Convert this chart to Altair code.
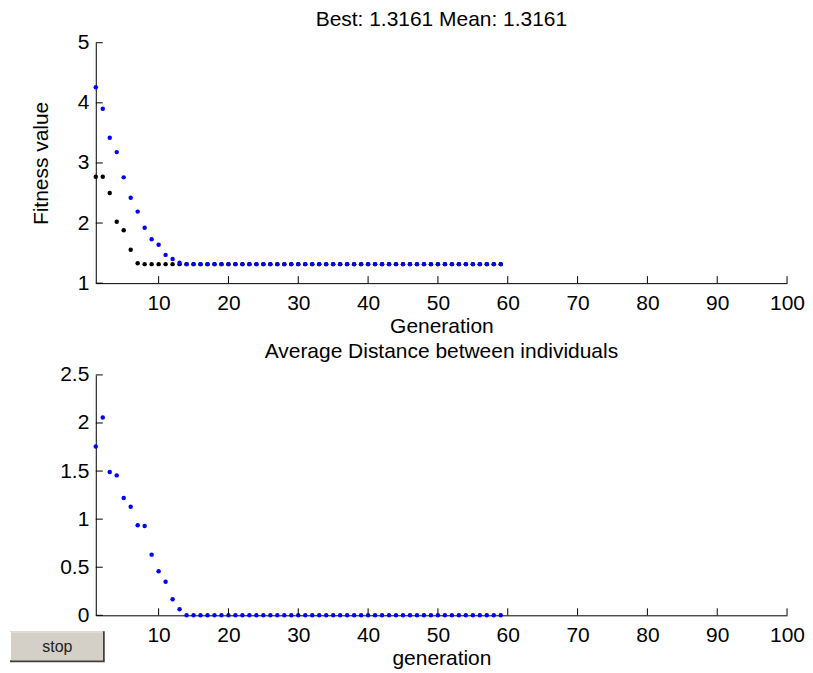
import altair as alt
import pandas as pd

# ---------------- data ----------------
generation = list(range(1, 60))

best_fitness = [2.77, 2.77, 2.50, 2.02, 1.88, 1.555, 1.33,
                1.3161, 1.3161, 1.3161, 1.3161, 1.3161, 1.3161, 1.3161, 1.3161, 1.3161, 1.3161,
                1.3161, 1.3161, 1.3161, 1.3161, 1.3161, 1.3161, 1.3161, 1.3161, 1.3161, 1.3161,
                1.3161, 1.3161, 1.3161, 1.3161, 1.3161, 1.3161, 1.3161, 1.3161, 1.3161, 1.3161,
                1.3161, 1.3161, 1.3161, 1.3161, 1.3161, 1.3161, 1.3161, 1.3161, 1.3161, 1.3161,
                1.3161, 1.3161, 1.3161, 1.3161, 1.3161, 1.3161, 1.3161, 1.3161, 1.3161, 1.3161,
                1.3161, 1.3161]

mean_fitness = [4.26, 3.90, 3.42, 3.18, 2.76, 2.42, 2.19, 1.92, 1.73, 1.64, 1.47, 1.40, 1.34,
                1.3161, 1.3161, 1.3161, 1.3161, 1.3161, 1.3161, 1.3161, 1.3161, 1.3161, 1.3161,
                1.3161, 1.3161, 1.3161, 1.3161, 1.3161, 1.3161, 1.3161, 1.3161, 1.3161, 1.3161,
                1.3161, 1.3161, 1.3161, 1.3161, 1.3161, 1.3161, 1.3161, 1.3161, 1.3161, 1.3161,
                1.3161, 1.3161, 1.3161, 1.3161, 1.3161, 1.3161, 1.3161, 1.3161, 1.3161, 1.3161,
                1.3161, 1.3161, 1.3161, 1.3161, 1.3161, 1.3161]

avg_distance = [1.756, 2.057, 1.49, 1.455, 1.22, 1.13, 0.936, 0.929, 0.631, 0.458, 0.348, 0.168, 0.064,
                0.0, 0.0, 0.0, 0.0, 0.0, 0.0, 0.0, 0.0, 0.0, 0.0,
                0.0, 0.0, 0.0, 0.0, 0.0, 0.0, 0.0, 0.0, 0.0, 0.0,
                0.0, 0.0, 0.0, 0.0, 0.0, 0.0, 0.0, 0.0, 0.0, 0.0,
                0.0, 0.0, 0.0, 0.0, 0.0, 0.0, 0.0, 0.0, 0.0, 0.0,
                0.0, 0.0, 0.0, 0.0, 0.0, 0.0]

x_ticks = [10, 20, 30, 40, 50, 60, 70, 80, 90, 100]
fit_ticks = [1, 2, 3, 4, 5]
dist_ticks = [0, 0.5, 1, 1.5, 2, 2.5]

top_title = "Best: 1.3161 Mean: 1.3161"
bottom_title = "Average Distance between individuals"
button_label = ["stop"]

# ---------------- styling ----------------
FONT = "Liberation Sans"
FS = 21
W, H = 693, 241
TICK = 7
DOT = 20

df = pd.DataFrame({"gen": generation, "best": best_fitness,
                   "mean": mean_fitness, "dist": avg_distance})
xt = pd.DataFrame({"t": x_ticks})
ft = pd.DataFrame({"t": fit_ticks})
dt = pd.DataFrame({"t": dist_ticks})

xscale = alt.Scale(domain=[1, 100], nice=False, zero=False)
fscale = alt.Scale(domain=[1, 5], nice=False, zero=False)
dscale = alt.Scale(domain=[0, 2.5], nice=False, zero=False)


def x_axis(title):
    return alt.Axis(values=x_ticks, tickSize=0, labelPadding=9, title=title,
                    titlePadding=2, labelFlush=False, labelOverlap=False)


def y_axis(values, title, fmt):
    return alt.Axis(values=values, tickSize=0, labelPadding=7, labelFlush=False,
                    labelOverlap=False, titlePadding=26, title=title, format=fmt)


# ---------------- top panel ----------------
top_x = x_axis("Generation")
top_y = y_axis(fit_ticks, "Fitness value", "d")

best_pts = alt.Chart(df).mark_circle(size=DOT, color="#000000", opacity=1).encode(
    x=alt.X("gen:Q", scale=xscale, axis=top_x, title="Generation"),
    y=alt.Y("best:Q", scale=fscale, axis=top_y, title="Fitness value"),
)
mean_pts = alt.Chart(df).mark_circle(size=DOT, color="#0000ff", opacity=1).encode(
    x=alt.X("gen:Q", scale=xscale, axis=top_x, title="Generation"),
    y=alt.Y("mean:Q", scale=fscale, axis=top_y, title="Fitness value"),
)
top_xt = alt.Chart(xt).mark_rule(color="#000000", strokeWidth=1).encode(
    x=alt.X("t:Q", scale=xscale, axis=top_x, title="Generation"),
    y=alt.value(H), y2=alt.value(H - TICK),
)
top_yt = alt.Chart(ft).mark_rule(color="#000000", strokeWidth=1).encode(
    y=alt.Y("t:Q", scale=fscale, axis=top_y, title="Fitness value"),
    x=alt.value(0), x2=alt.value(TICK),
)
top = alt.layer(best_pts, mean_pts, top_xt, top_yt).properties(
    width=W, height=H,
    title=alt.TitleParams(top_title, font=FONT, fontSize=FS, fontWeight="normal",
                          color="#000000", anchor="middle", frame="group", offset=2),
)

# ---------------- bottom panel ----------------
bot_x = x_axis("generation")
bot_y = y_axis(dist_ticks, None, "~g")

dist_pts = alt.Chart(df).mark_circle(size=DOT, color="#0000ff", opacity=1).encode(
    x=alt.X("gen:Q", scale=xscale, axis=bot_x, title="generation"),
    y=alt.Y("dist:Q", scale=dscale, axis=bot_y),
)
bot_xt = alt.Chart(xt).mark_rule(color="#000000", strokeWidth=1).encode(
    x=alt.X("t:Q", scale=xscale, axis=bot_x, title="generation"),
    y=alt.value(H), y2=alt.value(H - TICK),
)
bot_yt = alt.Chart(dt).mark_rule(color="#000000", strokeWidth=1).encode(
    y=alt.Y("t:Q", scale=dscale, axis=bot_y),
    x=alt.value(0), x2=alt.value(TICK),
)

# "stop" push button (decoration outside the plot area)
btn = pd.DataFrame({"label": button_label})
bx0, bx1, by0, by1 = -86, 9, 257, 288
btn_shadow = alt.Chart(btn).mark_rect(color="#404040").encode(
    x=alt.value(bx0), x2=alt.value(bx1), y=alt.value(by0), y2=alt.value(by1))
btn_light = alt.Chart(btn).mark_rect(color="#ffffff").encode(
    x=alt.value(bx0), x2=alt.value(bx1 - 2), y=alt.value(by0), y2=alt.value(by1 - 2))
btn_face = alt.Chart(btn).mark_rect(color="#d4d0c8").encode(
    x=alt.value(bx0 + 1), x2=alt.value(bx1 - 2), y=alt.value(by0 + 1), y2=alt.value(by1 - 2))
btn_text = alt.Chart(btn).mark_text(font=FONT, fontSize=16, color="#202020",
                                    baseline="middle", align="center").encode(
    text="label:N", x=alt.value((bx0 + bx1) / 2), y=alt.value((by0 + by1) / 2))

bottom = alt.layer(dist_pts, bot_xt, bot_yt, btn_shadow, btn_light, btn_face, btn_text).properties(
    width=W, height=H,
    title=alt.TitleParams(bottom_title, font=FONT, fontSize=FS, fontWeight="normal",
                          color="#000000", anchor="middle", frame="group", offset=2),
)

chart = alt.vconcat(top, bottom, spacing=92, bounds="flush").properties(
    padding={"left": 2, "top": 0, "right": 0, "bottom": 0},
    background="#ffffff",
).configure_view(stroke=None).configure_axis(
    grid=False, domainColor="#000000", domainWidth=1,
    labelFont=FONT, labelFontSize=FS, labelColor="#000000",
    titleFont=FONT, titleFontSize=FS, titleFontWeight="normal", titleColor="#000000",
)

chart.save("out.html", embed_options={"renderer": "svg", "actions": False})
